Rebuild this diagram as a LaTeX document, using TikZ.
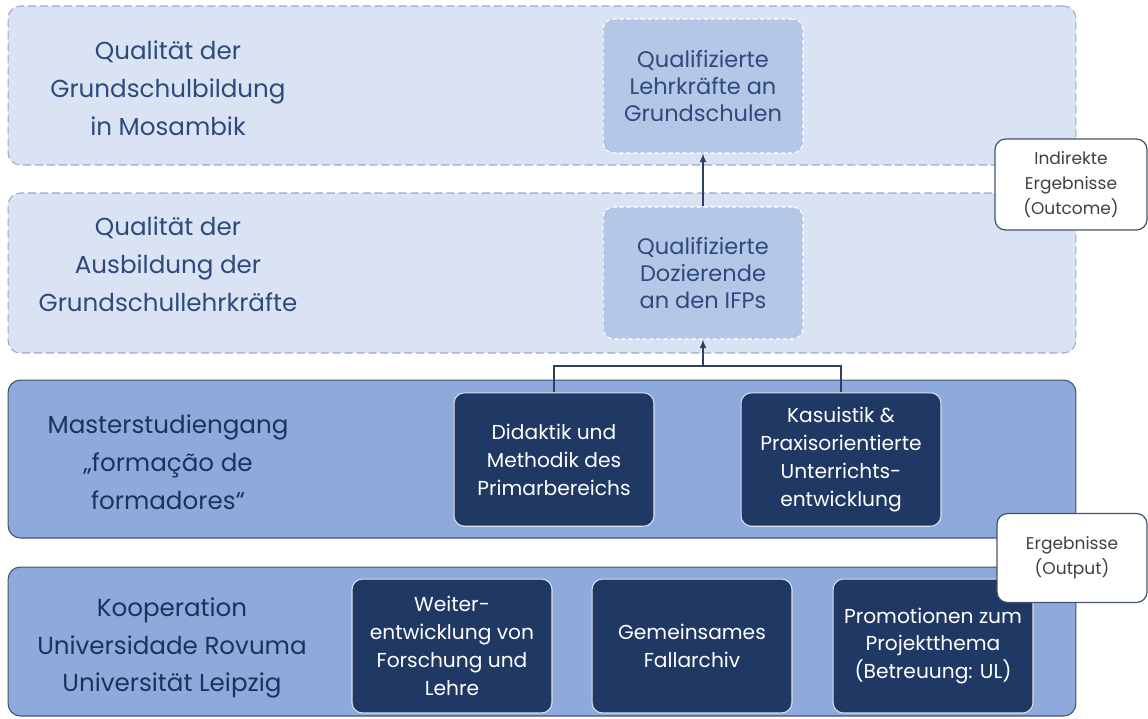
\documentclass[tikz,border=0pt]{standalone}
\usepackage{fontspec}
\setmainfont{Poppins}
\usetikzlibrary{positioning}

\definecolor{palefill}{HTML}{DAE3F3}
\definecolor{paledash}{HTML}{9AAAC6}
\definecolor{softfill}{HTML}{B4C7E7}
\definecolor{midfill}{HTML}{8EA9DB}
\definecolor{midline}{HTML}{44546A}
\definecolor{navy}{HTML}{203864}
\definecolor{labeltext}{HTML}{2E4A7D}
\definecolor{linkcol}{HTML}{2F3F5F}
\definecolor{sidetext}{HTML}{404040}

\begin{document}
\begin{tikzpicture}[x=0.02cm,y=-0.02cm,
    paleband/.style={rounded corners=7pt,fill=palefill,draw=paledash,line width=0.6pt,
        dash pattern=on 4.5pt off 2.3pt,minimum width=21.36cm,inner sep=0pt},
    midband/.style={rounded corners=7pt,fill=midfill,draw=midline,line width=0.6pt,
        minimum width=21.36cm,inner sep=0pt},
    bandlabel/.style={align=center,text=labeltext,font=\fontsize{14}{21.5}\selectfont},
    softbox/.style={rounded corners=6pt,fill=softfill,draw=white,line width=0.6pt,
        dash pattern=on 2.5pt off 1.5pt,minimum width=4cm,inner sep=0pt,align=center,
        text=labeltext,font=\fontsize{12.8}{15.6}\selectfont},
    darkbox/.style={rounded corners=6pt,fill=navy,draw=white!85!navy,line width=0.6pt,
        minimum width=4cm,minimum height=2.67cm,inner sep=0pt,align=center,
        text=white,font=\fontsize{11.5}{15.9}\selectfont},
    sidebox/.style={rounded corners=6pt,fill=white,draw=midline,line width=0.7pt,
        inner sep=0pt,align=center,text=sidetext,font=\fontsize{9.7}{14}\selectfont},
    link/.style={draw=linkcol,line width=0.7pt}]
  \useasboundingbox (0,0) rectangle (1148,718);
  % Bands
  \node[paleband,minimum height=3.18cm] (B1) at (542,85.5) {};
  \node[paleband,minimum height=3.2cm] (B2) at (542,273) {};
  \node[midband,minimum height=3.16cm] (B3) at (542,459) {};
  \node[midband,minimum height=2.98cm] (B4) at (542,641.5) {};
  % Band labels
  \node[bandlabel] (L1) at (168,88) {Qualität der\\Grundschulbildung\\in Mosambik};
  \node[bandlabel] (L2) at (168,264) {Qualität der\\Ausbildung der\\Grundschullehrkräfte};
  \node[bandlabel,text=navy!90!black] (L3) at (168,462) {Masterstudiengang\\„formação de\\formadores“};
  \node[bandlabel,text=navy!90!black] (L4) at (172,648) {Kooperation\\Universidade Rovuma\\Universität Leipzig};
  % Outcomes
  \node[softbox,minimum height=2.68cm] (Lehr) at (703,86) {Qualifizierte\\Lehrkräfte an\\Grundschulen};
  \node[softbox,minimum height=2.64cm] (Doz) at (703,273) {Qualifizierte\\Dozierende\\an den IFPs};
  % Master
  \node[darkbox] (Did) at (554,459.5) {Didaktik und\\Methodik des\\Primarbereichs};
  \node[darkbox] (Kas) at (841,459.5) {Kasuistik \&\\Praxisorientierte\\Unterrichts-\\entwicklung};
  % Cooperation
  \node[darkbox,minimum height=2.68cm] (Wei) at (452,646) {Weiter-\\entwicklung von\\Forschung und\\Lehre};
  \node[darkbox,minimum height=2.68cm] (Gem) at (692,646) {Gemeinsames\\Fallarchiv};
  \node[darkbox,minimum height=2.68cm] (Pro) at (933,646) {Promotionen zum\\Projektthema\\(Betreuung: UL)};
  % Side labels
  \node[sidebox,minimum width=3.04cm,minimum height=1.82cm] (Out1) at (1071,184.5) {Indirekte\\Ergebnisse\\(Outcome)};
  \node[sidebox,minimum width=3cm,minimum height=1.78cm] (Out2) at (1072,558) {Ergebnisse\\(Output)};
  % Links
  \coordinate (J) at (703,366);
  \draw[link] (Did.north) |- (J) -| (Kas.north);
  \draw[link,-latex] (J) -- (Doz.south);
  \draw[link,-latex] (Doz.north) -- (Lehr.south);
\end{tikzpicture}
\end{document}
